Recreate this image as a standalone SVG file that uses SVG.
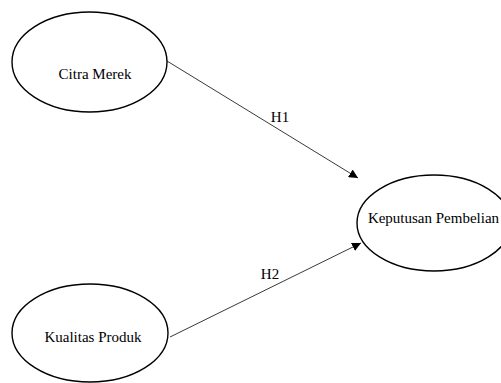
<svg xmlns="http://www.w3.org/2000/svg" width="501" height="383" viewBox="0 0 501 383">
<style>
.node{fill:#fff;stroke:#000;stroke-width:1.4}
.lbl{font-family:"Liberation Serif","Times New Roman",serif;font-size:15px;fill:#000;text-anchor:middle}
.edge{stroke:#222;stroke-width:0.9;fill:none}
</style>
<defs>
<marker id="arr" viewBox="0 0 10 10" refX="10" refY="5" markerWidth="9" markerHeight="9" markerUnits="userSpaceOnUse" orient="auto">
<path d="M0,0 L10,5 L0,10 Z" fill="#000"/>
</marker>
</defs>
<rect width="501" height="383" fill="#fff"/>
<g id="connectors">
<line class="edge" x1="167" y1="61" x2="358" y2="178" marker-end="url(#arr)"/>
<line class="edge" x1="170" y1="337" x2="361" y2="243" marker-end="url(#arr)"/>
<text class="lbl" x="280" y="122">H1</text>
<text class="lbl" x="270" y="279">H2</text>
</g>
<g id="citra-merek">
<ellipse class="node" cx="89.5" cy="62" rx="77.5" ry="50"/>
<text class="lbl" x="95" y="79">Citra Merek</text>
</g>
<g id="kualitas-produk">
<ellipse class="node" cx="90" cy="333" rx="78" ry="49"/>
<text class="lbl" x="93" y="342">Kualitas Produk</text>
</g>
<g id="keputusan-pembelian">
<ellipse class="node" cx="434" cy="223" rx="77" ry="48"/>
<text class="lbl" x="433.5" y="223">Keputusan Pembelian</text>
</g>
</svg>
